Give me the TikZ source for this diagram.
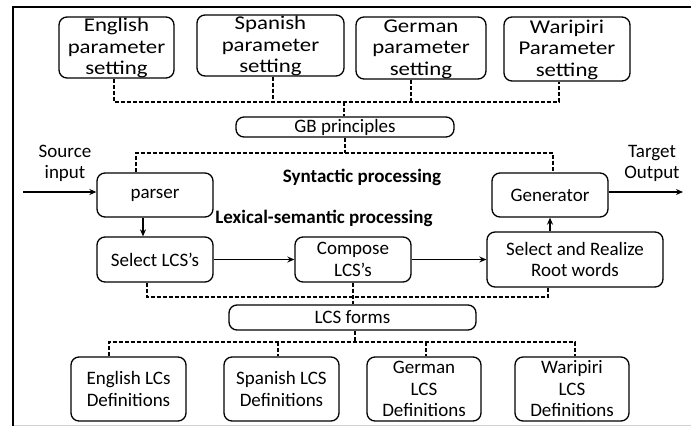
\documentclass[tikz,border=0pt]{standalone}
\usepackage{fontspec}
\usepackage{graphicx}
\setmainfont{Carlito}
\usetikzlibrary{arrows.meta}
% three-line caption, widened and set low in its box, without enlarging the box
\newcommand\lowtext[1]{\raisebox{-6.5pt}[0pt][0pt]{\scalebox{1.17}[1]{\begin{tabular}{@{}c@{}}#1\end{tabular}}}}
\begin{document}
\begin{tikzpicture}[x=1pt,y=-1pt,
  txt/.style={font=\fontsize{19}{21.5}\selectfont},
  box/.style={txt, draw, line width=1.3pt, rounded corners=8pt, align=center, inner sep=0pt},
  topbox/.style={box, font=\fontsize{19.5}{21.5}\selectfont},
  lbl/.style={txt, align=center, inner sep=0pt},
  headlbl/.style={inner sep=0pt, font=\fontsize{19}{21.5}\selectfont\bfseries},
  bus/.style={line width=1.3pt, dash pattern=on 4pt off 2pt},
  flow/.style={line width=1.3pt, -{Stealth[length=7pt,width=6pt]}}
]
\useasboundingbox (0,0) rectangle (691,426);

% frame
\draw[gray!35, line width=1pt] (13,425) -- (691,425);
\draw[line width=1.5pt] (13,426) -- (13,7) -- (691,7);

% parameter settings
\node[topbox, minimum width=115, minimum height=61] (engp) at (116.5,47.5) {\lowtext{English\\parameter\\setting}};
\node[topbox, minimum width=147, minimum height=61] (spap) at (270.5,45.5) {\lowtext{Spanish\\parameter\\setting}};
\node[topbox, minimum width=130, minimum height=62] (gerp) at (421,48) {\lowtext{German\\parameter\\setting}};
\node[topbox, minimum width=126, minimum height=64] (warp) at (567,49) {\lowtext{Waripiri\\Parameter\\setting}};

\node[box, minimum width=218, minimum height=20] (gb) at (345,127) {GB principles};

\coordinate (t1) at (114,102);
\coordinate (t2) at (273,102);
\coordinate (t3) at (411,102);
\coordinate (t4) at (559,102);
\coordinate (tg) at (344,102);
\draw[bus] (engp.south -| t1) -- (t1) -- (t4) -- (warp.south -| t4);
\draw[bus] (spap.south -| t2) -- (t2);
\draw[bus] (gerp.south -| t3) -- (t3);
\draw[bus] (tg) -- (tg |- gb.north);

% syntactic level
\node[box, minimum width=116, minimum height=44] (parser) at (155,195) {parser};
\node[box, minimum width=116, minimum height=44] (gen) at (550,195) {Generator};

\coordinate (m1) at (136,153);
\coordinate (m2) at (553,153);
\coordinate (mg) at (345,153);
\draw[bus] (parser.north -| m1) -- (m1) -- (m2) -- (gen.north -| m2);
\draw[bus] (gb.south -| mg) -- (mg);

\node[lbl] (src) at (65,163.5) {Source\\input};
\node[lbl] (tgt) at (652,163.5) {Target\\Output};
\coordinate (inS) at (23,192);
\coordinate (outE) at (683,192);
\draw[flow] (inS) -- (inS -| parser.west);
\draw[flow] (gen.east |- outE) -- (outE);

\node[headlbl] (syn) at (362,177) {Syntactic processing};
\node[headlbl] (lex) at (324,218) {Lexical-semantic processing};

% lexical-semantic level
\node[box, minimum width=116, minimum height=45] (sel) at (155,259.5) {Select LCS’s};
\node[box, minimum width=116, minimum height=45] (comp) at (353,259.5) {Compose\\LCS’s};
\node[box, minimum width=176, minimum height=55] (sr) at (575,259.5) {Select and Realize\\Root words};

\coordinate (pa) at (143,0);
\draw[flow] (parser.south -| pa) -- (sel.north -| pa);
\draw[flow] (sel.east) -- (comp.west);
\draw[flow] (comp.east) -- (sr.west);
\draw[flow] (sr.north -| gen.south) -- (gen.south);

\node[box, minimum width=247, minimum height=25] (lcs) at (352.5,317.5) {LCS forms};

\coordinate (b1) at (147,297);
\coordinate (b2) at (548,297);
\coordinate (bc) at (353,297);
\draw[bus] (sel.south -| b1) -- (b1) -- (b2) -- (sr.south -| b2);
\draw[bus] (comp.south -| bc) -- (bc) -- (bc |- lcs.north);

% LCS definitions
\node[box, minimum width=115, minimum height=64] (engd) at (128.5,389) {English LCs\\Definitions};
\node[box, minimum width=115, minimum height=64] (spad) at (281.5,389) {Spanish LCS\\Definitions};
\node[box, minimum width=114, minimum height=64] (gerd) at (424,389) {German\\LCS\\Definitions};
\node[box, minimum width=114, minimum height=64] (ward) at (572,389) {Waripiri\\LCS\\Definitions};

\coordinate (c1) at (109,342);
\coordinate (c2) at (278,342);
\coordinate (c3) at (426,342);
\coordinate (c4) at (575,342);
\coordinate (cc) at (355,342);
\draw[bus] (lcs.south -| cc) -- (cc);
\draw[bus] (engd.north -| c1) -- (c1) -- (c4) -- (ward.north -| c4);
\draw[bus] (c2) -- (spad.north -| c2);
\draw[bus] (c3) -- (gerd.north -| c3);
\end{tikzpicture}
\end{document}
